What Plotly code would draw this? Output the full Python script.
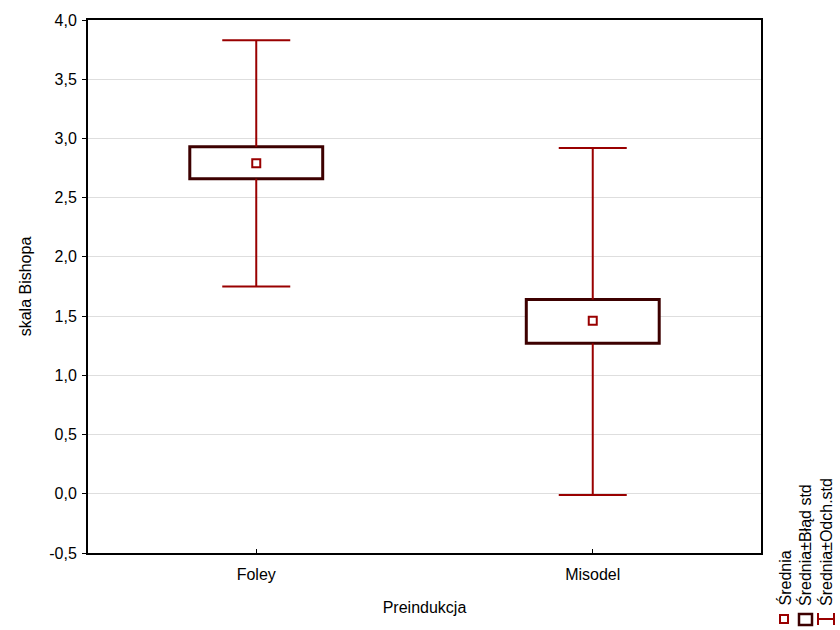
import plotly.graph_objects as go

# ---- data ----
categories = ["Foley", "Misodel"]
means = [2.79, 1.46]
se_low = [2.66, 1.27]
se_high = [2.93, 1.64]
sd_low = [1.75, -0.01]
sd_high = [3.83, 2.92]
y_ticks = [-0.5, 0.0, 0.5, 1.0, 1.5, 2.0, 2.5, 3.0, 3.5, 4.0]
y_tick_labels = ["-0,5", "0,0", "0,5", "1,0", "1,5", "2,0", "2,5", "3,0", "3,5", "4,0"]
legend_labels = ["Średnia", "Średnia±Błąd std", "Średnia±Odch.std"]

WHISK = "#990000"
BOXC = "#3d0000"
FONT = "Liberation Sans, Arial, sans-serif"

fig = go.Figure()

# box (mean ± SE) as floating bars
fig.add_trace(go.Bar(
    x=categories,
    y=[h - l for h, l in zip(se_high, se_low)],
    base=se_low,
    width=0.395,
    marker=dict(color="white", line=dict(color=BOXC, width=3)),
    showlegend=False, hoverinfo="skip",
))

# whisker stems (box edge -> mean ± SD)
wx, wy = [], []
for c, lo, bl, bh, hi in zip(categories, sd_low, se_low, se_high, sd_high):
    wx += [c, c, None, c, c, None]
    wy += [bh, hi, None, bl, lo, None]
fig.add_trace(go.Scatter(
    x=wx, y=wy, mode="lines", line=dict(color=WHISK, width=2),
    showlegend=False, hoverinfo="skip",
))

# whisker caps (zero-length error bars draw a single cap)
fig.add_trace(go.Scatter(
    x=categories + categories, y=sd_high + sd_low, mode="markers",
    marker=dict(size=1, color="rgba(0,0,0,0)"),
    error_y=dict(type="data", array=[0, 0, 0, 0], color=WHISK, thickness=2, width=34),
    showlegend=False, hoverinfo="skip",
))

# means
fig.add_trace(go.Scatter(
    x=categories, y=means, mode="markers",
    marker=dict(symbol="square-open", size=8, color=WHISK, line=dict(width=2, color=WHISK)),
    showlegend=False,
))

L, R, T, B = 88, 79, 20, 77
W, H = 840, 630
pw, ph = W - L - R, H - T - B

def px(xp):
    return (xp - L) / pw

def py(yp):
    return (H - B - yp) / ph

shapes = [
    # legend symbol: mean square
    dict(type="rect", xref="paper", yref="paper",
         x0=px(780), x1=px(788), y0=py(623), y1=py(615),
         line=dict(color=WHISK, width=2), fillcolor="white"),
    # legend symbol: box
    dict(type="rect", xref="paper", yref="paper",
         x0=px(799), x1=px(812), y0=py(625), y1=py(614),
         line=dict(color=BOXC, width=2.5), fillcolor="white"),
    # legend symbol: whisker (horizontal I)
    dict(type="line", xref="paper", yref="paper",
         x0=px(818), x1=px(834), y0=py(619), y1=py(619),
         line=dict(color=WHISK, width=2)),
    dict(type="line", xref="paper", yref="paper",
         x0=px(818), x1=px(818), y0=py(613), y1=py(625),
         line=dict(color=WHISK, width=2)),
    dict(type="line", xref="paper", yref="paper",
         x0=px(834), x1=px(834), y0=py(613), y1=py(625),
         line=dict(color=WHISK, width=2)),
]

annotations = []
for lbl, xc in zip(legend_labels, [784, 805, 826]):
    annotations.append(dict(
        text=lbl, xref="paper", yref="paper", x=px(xc), y=py(608),
        xanchor="center", yanchor="bottom", textangle=-90, showarrow=False,
        font=dict(family=FONT, size=16, color="black"),
    ))

fig.update_layout(
    width=W, height=H,
    margin=dict(l=L, r=R, t=T, b=B),
    plot_bgcolor="white", paper_bgcolor="white",
    font=dict(family=FONT, size=16, color="black"),
    barmode="overlay",
    shapes=shapes, annotations=annotations,
    showlegend=False,
    xaxis=dict(
        range=[-0.5, 1.5], showline=True, linecolor="black", linewidth=2, mirror=True,
        ticks="inside", ticklen=4, tickcolor="black", showgrid=False,
        ticklabelstandoff=6,
        title=dict(text="Preindukcja", font=dict(size=16), standoff=20),
        tickfont=dict(size=16),
    ),
    yaxis=dict(
        range=[-0.5, 4.0], tickvals=y_ticks, ticktext=y_tick_labels,
        showline=True, linecolor="black", linewidth=2, mirror=True,
        ticks="outside", ticklen=4, tickcolor="black",
        showgrid=True, gridcolor="#dedede", gridwidth=1, zeroline=False,
        ticklabelstandoff=2,
        title=dict(text="skala Bishopa", font=dict(size=16), standoff=14),
        tickfont=dict(size=16),
    ),
)

fig.write_html("out.html", config={"displayModeBar": False},
               post_script="document.body.style.margin='0px';")
